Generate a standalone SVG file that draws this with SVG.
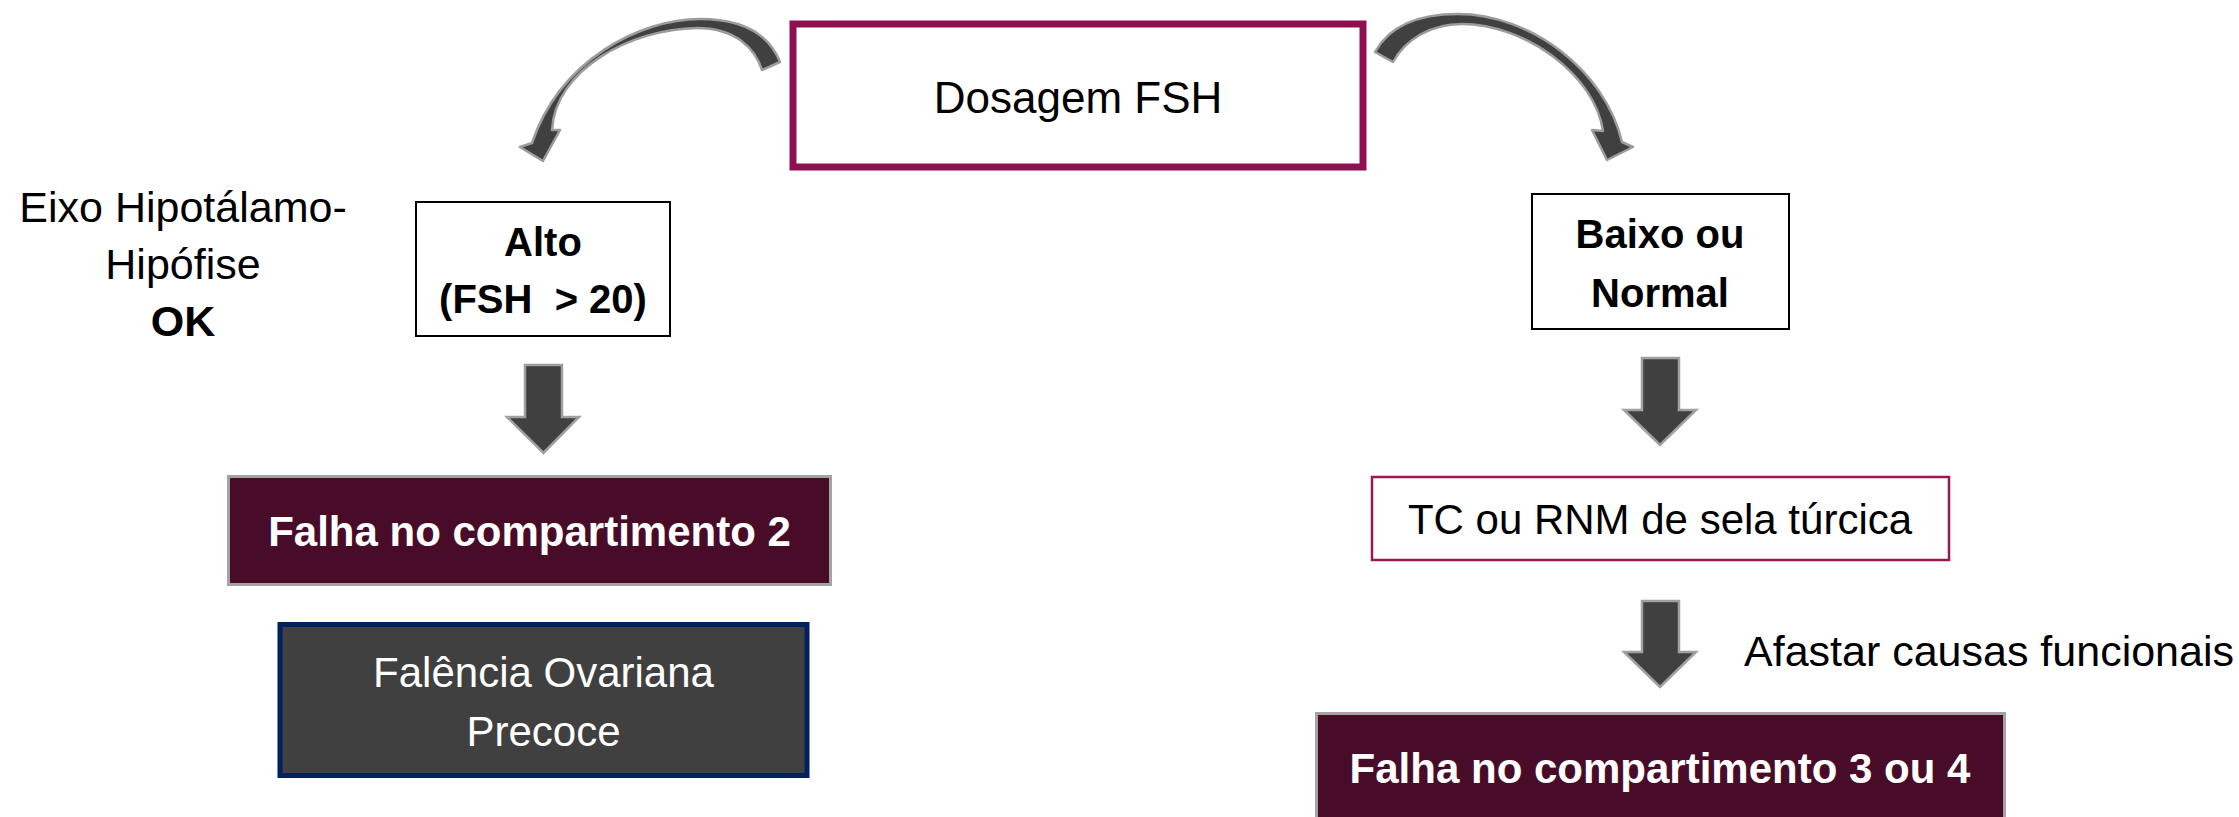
<svg xmlns="http://www.w3.org/2000/svg" width="2239" height="817" viewBox="0 0 2239 817">
<style>
text{font-family:"Liberation Sans",Arial,sans-serif;text-anchor:middle;fill:#000}
.b{font-weight:bold}
.w{fill:#fff}
.blk{fill:#404040;stroke:#a0a0a0;stroke-width:2.5;stroke-linejoin:miter}
.curve{fill:#404040;stroke:#9c9c9c;stroke-width:2.5;stroke-linejoin:round}
.maroon{fill:#480c29;stroke:#a3a3a3;stroke-width:3}
</style>
<rect width="2239" height="817" fill="#fff"/>
<g id="connectors">
<path class="curve" d="M780,62 C768,32 740,19 700,19 C640,19 560,60 532,143 L520,147 L543,161 L560,130 L552,130 C555,70 630,29 697,28 C735,28 755,48 762,70 Z"/>
<path class="curve" d="M1375,52 C1390,25 1420,14 1458,14 C1530,14 1605,70 1622,142 L1633,147 L1607,160 L1592,130 L1603,131 C1595,75 1525,24 1462,24 C1430,24 1405,40 1393,62 Z"/>
<path class="blk" d="M525,365 H562 V417 H579 L543.5,453 L507,417 H525 Z"/>
<path class="blk" d="M1642,358 H1679 V410 H1696 L1660,445 L1624,410 H1642 Z"/>
<path class="blk" d="M1642,601 H1679 V652 H1696 L1660,687 L1624,652 H1642 Z"/>
</g>
<g id="dosagem">
<rect x="793" y="24" width="570" height="143" fill="#fff" stroke="#8f1050" stroke-width="7"/>
<text x="1078" y="113" font-size="44">Dosagem FSH</text>
</g>
<g id="eixo">
<text x="183" y="222" font-size="43">Eixo Hipotálamo-</text>
<text x="183" y="279" font-size="43">Hipófise</text>
<text x="183" y="336" font-size="43" class="b">OK</text>
</g>
<g id="alto">
<rect x="416" y="202" width="254" height="134" fill="#fff" stroke="#000" stroke-width="2"/>
<text x="543" y="256" font-size="40" class="b">Alto</text>
<text x="543" y="313" font-size="40" class="b" xml:space="preserve">(FSH  &gt; 20)</text>
</g>
<g id="falha2">
<rect class="maroon" x="228.5" y="476.5" width="602" height="108"/>
<text x="529.5" y="546" font-size="42" class="b w">Falha no compartimento 2</text>
</g>
<g id="falencia">
<rect x="280" y="624.5" width="527" height="151" fill="#404040" stroke="#002060" stroke-width="5"/>
<text x="543.5" y="687" font-size="42" class="w">Falência Ovariana</text>
<text x="543.5" y="746" font-size="42" class="w">Precoce</text>
</g>
<g id="baixo">
<rect x="1532" y="194" width="257" height="135" fill="#fff" stroke="#000" stroke-width="2"/>
<text x="1660" y="248" font-size="40" class="b">Baixo ou</text>
<text x="1660" y="307" font-size="40" class="b">Normal</text>
</g>
<g id="tc">
<rect x="1372" y="477" width="577" height="83" fill="#fff" stroke="#951a55" stroke-width="2.5"/>
<text x="1660" y="534" font-size="42">TC ou RNM de sela túrcica</text>
</g>
<g id="afastar">
<text x="1744" y="666" font-size="43" style="text-anchor:start">Afastar causas funcionais</text>
</g>
<g id="falha34">
<rect class="maroon" x="1316.5" y="713.5" width="688" height="130"/>
<text x="1660" y="783" font-size="42" class="b w">Falha no compartimento 3 ou 4</text>
</g>
</svg>
